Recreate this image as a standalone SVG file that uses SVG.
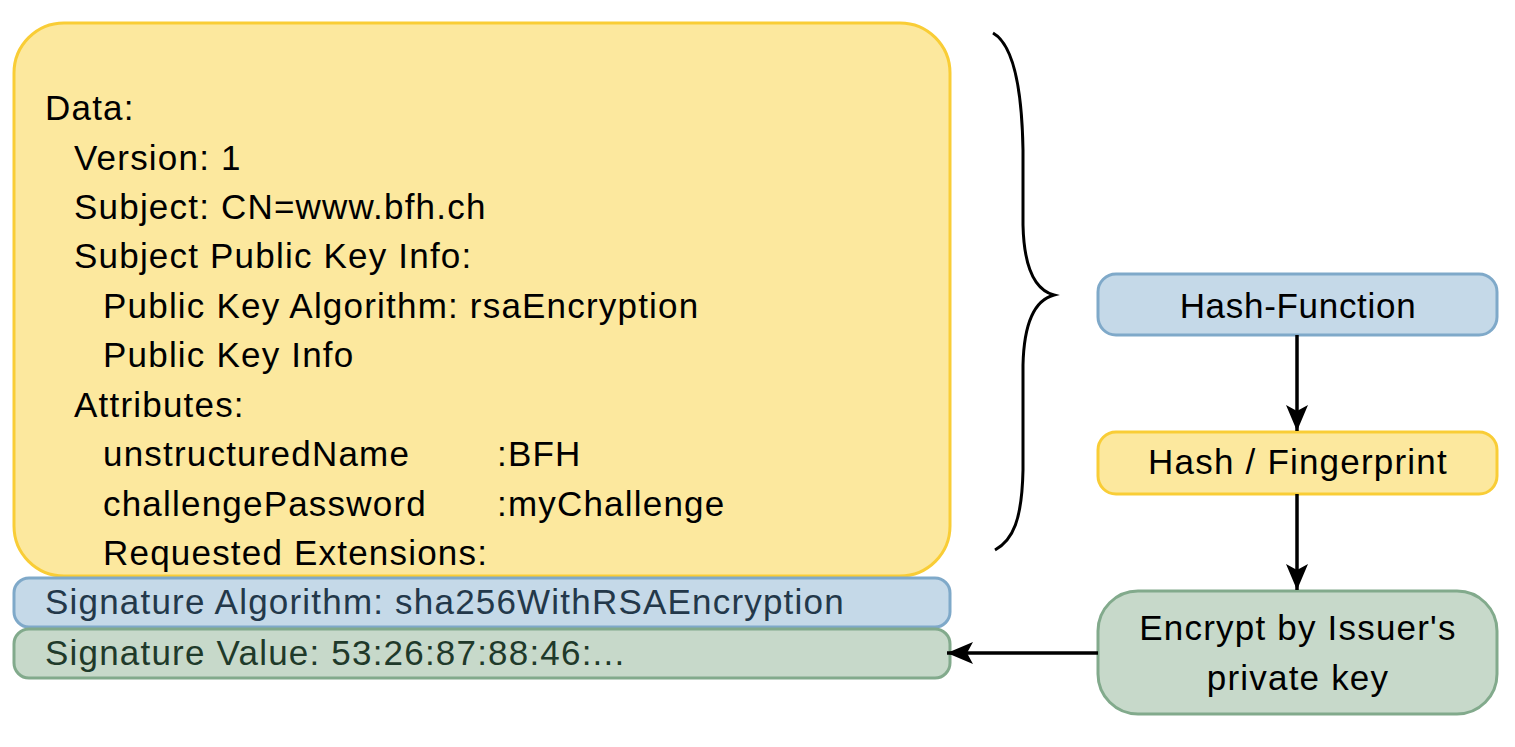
<svg xmlns="http://www.w3.org/2000/svg" width="1515" height="747" viewBox="0 0 1515 747">
<defs>
<style>
text{font-family:"Liberation Sans",Arial,sans-serif;font-size:35px;fill:#000;letter-spacing:1.2px}
.y{fill:#fce89e;stroke:#f9cd36;stroke-width:3}
.b{fill:#c5d9e8;stroke:#7fa9c9;stroke-width:3}
.g{fill:#c7d9ca;stroke:#82aa8c;stroke-width:3}
.c{fill:none;stroke:#000;stroke-width:3.5}
.m{text-anchor:middle}
</style>
<marker id="a" viewBox="0 0 26 22" refX="26" refY="11" markerWidth="26" markerHeight="22" markerUnits="userSpaceOnUse" orient="auto">
<path d="M0,0 L26,11 L0,22 L6,11 z" fill="#000"/>
</marker>
</defs>
<rect width="1515" height="747" fill="#fff"/>
<g id="data">
<rect class="y" x="14" y="23" width="936" height="553" rx="50"/>
<text x="45" y="120">Data:</text>
<text x="74" y="170">Version: 1</text>
<text x="74" y="219">Subject: CN=www.bfh.ch</text>
<text x="74" y="268">Subject Public Key Info:</text>
<text x="103" y="318">Public Key Algorithm: rsaEncryption</text>
<text x="103" y="367">Public Key Info</text>
<text x="74" y="417">Attributes:</text>
<text x="103" y="466">unstructuredName</text>
<text x="497" y="466">:BFH</text>
<text x="103" y="516">challengePassword</text>
<text x="497" y="516">:myChallenge</text>
<text x="103" y="565">Requested Extensions:</text>
</g>
<g id="sigalg">
<rect class="b" x="14" y="578" width="936" height="49" rx="15"/>
<text x="45" y="614" style="fill:#23384a">Signature Algorithm: sha256WithRSAEncryption</text>
</g>
<g id="sigval">
<rect class="g" x="14" y="629" width="936" height="49" rx="15"/>
<text x="45" y="665" style="fill:#1f3a2a">Signature Value: 53:26:87:88:46:...</text>
</g>
<g id="hashfn">
<rect class="b" x="1098" y="274" width="399" height="61" rx="18"/>
<text class="m" x="1298" y="318" style="letter-spacing:0.7px">Hash-Function</text>
</g>
<g id="hash">
<rect class="y" x="1098" y="432" width="399" height="62" rx="18"/>
<text class="m" x="1298" y="474">Hash / Fingerprint</text>
</g>
<g id="encrypt">
<rect class="g" x="1098" y="591" width="399" height="123" rx="40"/>
<text class="m" x="1298" y="640">Encrypt by Issuer's</text>
<text class="m" x="1298" y="690">private key</text>
</g>
<g id="connectors">
<path class="c" style="stroke-width:3" d="M993,33 C1014,45 1022,90 1023,150 L1023,225 C1024,268 1035,290 1054,295 C1035,300 1024,322 1023,365 L1023,470 C1022,520 1013,540 995,550"/>
<line class="c" x1="1297" y1="335" x2="1297" y2="431" marker-end="url(#a)"/>
<line class="c" x1="1297" y1="494" x2="1297" y2="590" marker-end="url(#a)"/>
<line class="c" x1="1098" y1="653" x2="947" y2="653" marker-end="url(#a)"/>
</g>
</svg>
